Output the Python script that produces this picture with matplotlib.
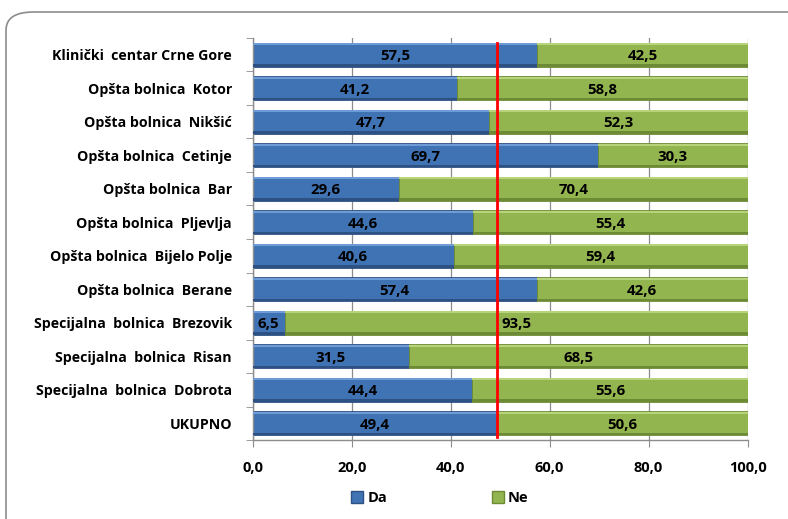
import numpy as np
import matplotlib
matplotlib.use("Agg")
import matplotlib.pyplot as plt
from matplotlib.patches import FancyBboxPatch, Patch

plt.rcParams['font.family'] = ['Open Sans', 'DejaVu Sans']
plt.rcParams['font.weight'] = 'bold'

bolnice = ["Klinički  centar Crne Gore", "Opšta bolnica  Kotor", "Opšta bolnica  Nikšić",
           "Opšta bolnica  Cetinje", "Opšta bolnica  Bar", "Opšta bolnica  Pljevlja",
           "Opšta bolnica  Bijelo Polje", "Opšta bolnica  Berane",
           "Specijalna  bolnica  Brezovik", "Specijalna  bolnica  Risan",
           "Specijalna  bolnica  Dobrota", "UKUPNO"]
da = [57.5, 41.2, 47.7, 69.7, 29.6, 44.6, 40.6, 57.4, 6.5, 31.5, 44.4, 49.4]
ne = [42.5, 58.8, 52.3, 30.3, 70.4, 55.4, 59.4, 42.6, 93.5, 68.5, 55.6, 50.6]
xticks = [0, 20, 40, 60, 80, 100]
prosjek = da[-1]

fig = plt.figure(figsize=(7.88, 5.19), dpi=100)
ax = fig.add_axes([0.3207, 0.1522, 0.628, 0.7746])

# okvir grafikona
okvir = FancyBboxPatch((6 / 788, -0.1), 1.2, 1.0 - 12 / 519 + 0.1,
                       boxstyle="round,pad=0,rounding_size=0.035",
                       transform=fig.transFigure, fc='none', ec='#8c8c8c', lw=1.2,
                       zorder=0)
fig.patches.append(okvir)

y = np.arange(len(bolnice))
h = 0.72
serije = [
    (da, [0] * len(da), '#4073b3', '#6f9bd6', '#2e5183'),
    (ne, da, '#93b54f', '#b7d47a', '#6d8a35'),
]
for vals, left, boja, svijetla, tamna in serije:
    ax.barh(y, vals, left=left, height=h, color=boja, edgecolor=tamna, lw=0.6, zorder=2)
    ax.barh(y - h / 2 + 0.05, vals, left=left, height=0.06, color=svijetla, lw=0, zorder=3)
    ax.barh(y + h / 2 - 0.04, vals, left=left, height=0.08, color=tamna, lw=0, zorder=3)

for i in range(len(bolnice)):
    ax.text(da[i] / 2, y[i] + 0.04, f"{da[i]:.1f}".replace('.', ','), ha='center',
            va='center', fontsize=10.8, fontweight='bold', zorder=5)
    ax.text(da[i] + ne[i] / 2, y[i] + 0.04, f"{ne[i]:.1f}".replace('.', ','), ha='center',
            va='center', fontsize=10.8, fontweight='bold', zorder=5)

ax.axvline(prosjek, ymin=0.008, ymax=0.988, color='#ff0000', lw=2, zorder=6)

ax.set_xlim(0, 100)
ax.set_ylim(len(bolnice) - 0.5, -0.5)
ax.set_xticks(xticks)
ax.set_xticklabels([f"{v:.1f}".replace('.', ',') for v in xticks], fontsize=10.5,
                   fontweight='bold')
ax.set_yticks(y)
ax.set_yticklabels(bolnice, fontsize=10.2, fontweight='bold')
ax.set_yticks(np.arange(len(bolnice) + 1) - 0.5, minor=True)
ax.tick_params(axis='y', which='major', length=0, pad=15)
ax.tick_params(axis='y', which='minor', length=5, color='#8c8c8c', direction='out')
ax.tick_params(axis='x', length=5, color='#8c8c8c', pad=10)
ax.grid(axis='x', color='#8c8c8c', lw=0.9, zorder=0)
ax.set_axisbelow(True)
for s in ['top', 'right']:
    ax.spines[s].set_visible(False)
for s in ['left', 'bottom']:
    ax.spines[s].set_color('#8c8c8c')
    ax.spines[s].set_linewidth(1.0)

handles = [Patch(facecolor='#4073b3', edgecolor='#2e5183'),
           Patch(facecolor='#93b54f', edgecolor='#6d8a35')]
fig.legend(handles, ['Da', 'Ne'], loc='center', bbox_to_anchor=(440 / 788, 1 - 498 / 519),
           ncol=2, frameon=False, fontsize=10.5, handlelength=0.8, handleheight=0.8,
           handletextpad=0.3, columnspacing=7.2)

fig.savefig("out.png", dpi=100)
